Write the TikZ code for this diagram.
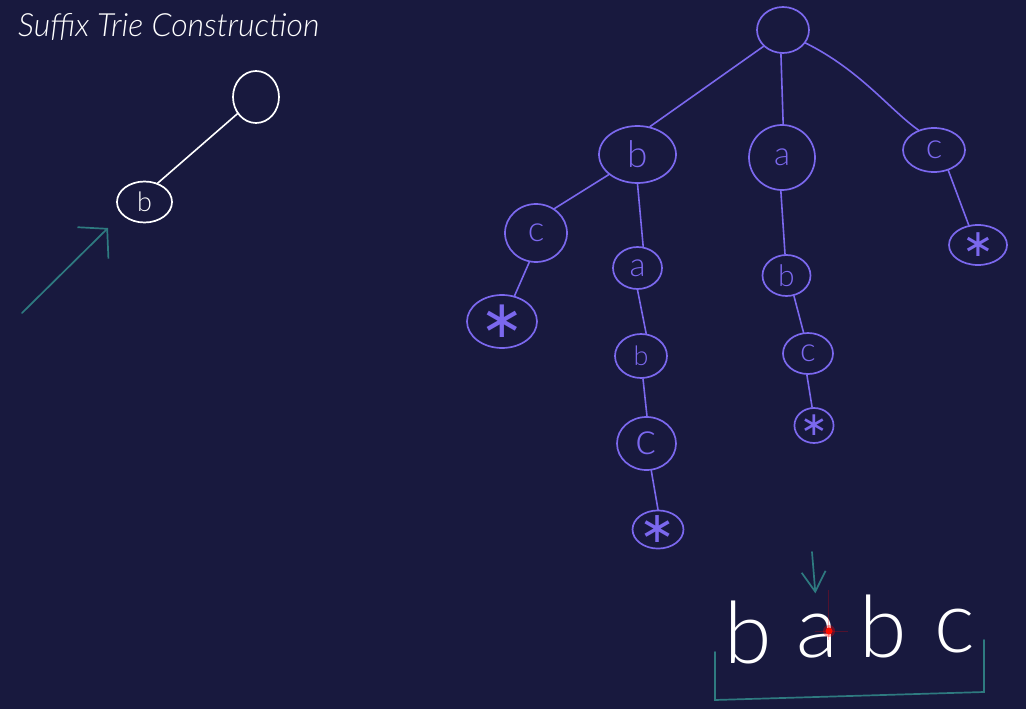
\documentclass[tikz,border=0pt]{standalone}
\usepackage{fontspec}
\setmainfont{Liberation Sans}
\newfontfamily\handfont{Lato Light}
\newfontfamily\titlefont{Lato Light Italic}
\newfontfamily\symbfont{DejaVu Sans}
\usetikzlibrary{arrows.meta, shapes.geometric}
\definecolor{board}{RGB}{24,25,62}
\definecolor{trie}{RGB}{123,104,238}
\definecolor{pen}{RGB}{46,122,128}

\begin{document}
\begin{tikzpicture}[
    x=1pt, y=-1pt,
    every node/.style={inner sep=0pt},
    tnode/.style ={ellipse, draw=trie, line width=1.7pt, text=trie},
    wnode/.style ={ellipse, draw=white, line width=1.7pt, text=white},
    sz/.style 2 args={minimum width=#1pt, minimum height=#2pt},
    lt/.style    ={font=\handfont\fontsize{#1}{#1}\selectfont},
    st/.style    ={font=\symbfont\fontsize{#1}{#1}\selectfont},
    edge/.style  ={draw=trie, line width=1.6pt, line cap=round},
    wedge/.style ={draw=white, line width=1.6pt, line cap=round},
    pointer/.style={draw=pen, line width=1.7pt, line cap=round},
    letter/.style={anchor=base, text=white, font=\handfont\fontsize{86}{86}\selectfont},
]
\fill[board] (0,0) rectangle (1026,709);
\useasboundingbox (0,0) rectangle (1026,709);

% title
\node[anchor=base west, text=white, font=\titlefont\fontsize{32}{32}\selectfont]
     (title) at (18,37) {Suffix Trie Construction};

% trie being built
\node[wnode, sz={46}{52}] (w0) at (256,97) {};
\node[wnode, sz={55}{41}, lt=27] (wb) at (144.5,202) {b};
\draw[wedge] (w0.222) -- (wb.55);
\coordinate (ptrtail) at (22,313);
\coordinate (ptrhead) at (108,228);
\draw[pointer, -{Straight Barb[length=20pt, width=44pt]}] (ptrtail) -- (ptrhead);

% full suffix trie
\node[tnode, sz={52}{46}]        (root) at (783,30) {};
\node[tnode, sz={77}{57}, lt=37] (b1) at (637.5,154.5) {b};
\node[tnode, sz={66}{65}, lt=33] (a1) at (782,157.5) {a};
\node[tnode, sz={62}{44}, lt=35] (c1) at (934,150) {c};
\node[tnode, sz={62}{58}, lt=35] (c2) at (536,233) {c};
\node[tnode, sz={70}{53}, st=52] (e1) at (502,321.5) {∗};
\node[tnode, sz={49}{42}, lt=33] (a2) at (637.5,268) {a};
\node[tnode, sz={52}{44}, lt=27] (b2) at (641,356) {b};
\node[tnode, sz={59}{53}, lt=45] (c3) at (646.5,443.5) {c};
\node[tnode, sz={44}{35}, st=43] (e2) at (658,529.5) {∗};
\node[tnode, sz={48}{41}, lt=30] (b3) at (786.5,275.5) {b};
\node[tnode, sz={50}{41}, lt=33] (c4) at (808,353.5) {c};
\node[tnode, sz={38}{35}, st=33] (e3) at (814,425.5) {∗};
\node[tnode, sz={58}{40}, st=38] (e4) at (978,245) {∗};

\draw[edge] (root.220) -- (b1.66);
\draw[edge] (root.265) -- (a1.88);
\draw[edge] (root.330) .. controls (860,70) and (890,110) .. (c1.128);
\draw[edge] (b1.215) -- (c2.53);
\draw[edge] (b1.270) -- (a2.75);
\draw[edge] (c2.257) -- (e1.64);
\draw[edge] (a2.270) -- (b2.77);
\draw[edge] (b2.275) -- (c3.89);
\draw[edge] (c3.280) -- (e2.90);
\draw[edge] (a1.268) -- (b3.94);
\draw[edge] (b3.290) -- (c4.102);
\draw[edge] (c4.267) -- (e3.96);
\draw[edge] (c1.305) -- (e4.115);

% the string
\node[letter] (s1) at (748,663) {b};
\node[letter] (s2) at (817,657) {a};
\node[letter] (s3) at (883,657) {b};
\node[letter] (s4) at (955,652) {c};
\coordinate (cur) at (812,552);
\draw[pointer, shorten >=20pt, -{Straight Barb[length=20pt, width=24pt]}] (cur) -- (s2.north);
\draw[pointer] (715,652) -- (715,700) -- (984,692) -- (984,640);

% laser pointer
\draw[red, opacity=0.25, line width=0.8pt] (815,631) -- (848,631) (828,590) -- (828,640);
\fill[red, opacity=0.35] (829,631) circle (6);
\fill[red!90!orange] (829,631) circle (3.5);
\end{tikzpicture}
\end{document}
